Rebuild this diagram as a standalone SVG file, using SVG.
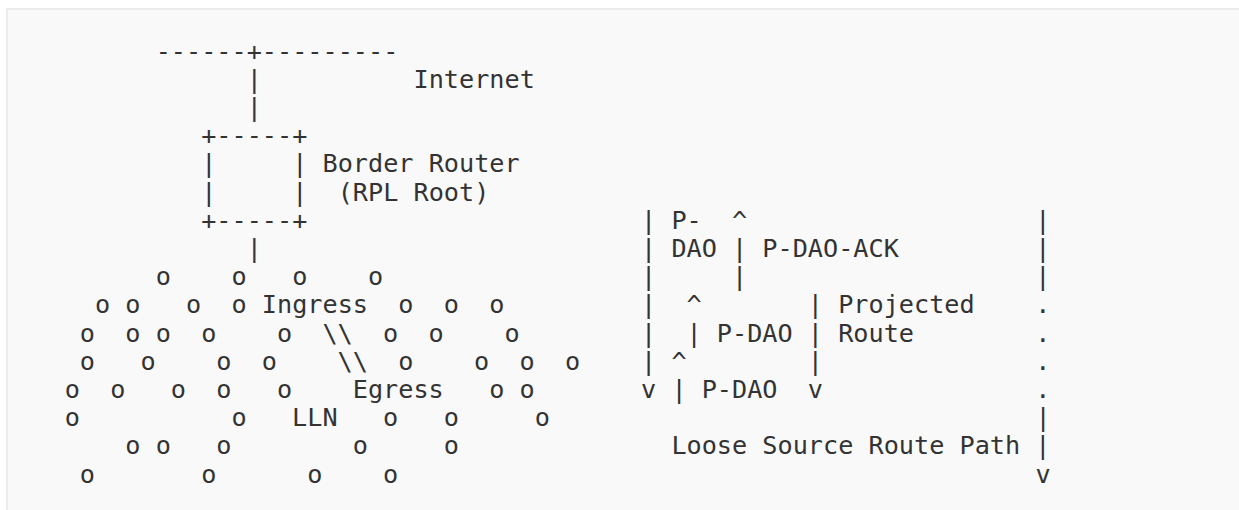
<svg xmlns="http://www.w3.org/2000/svg" width="1239" height="510" viewBox="0 0 1239 510">
<style>
  text { font-family: "DejaVu Sans Mono", "Liberation Mono", monospace; font-size: 25.2px; fill: #333; white-space: pre; }
</style>
<rect x="0" y="0" width="1239" height="510" fill="#ffffff"/>
<rect x="7" y="9" width="1300" height="600" fill="#f9f9f9" stroke="#ececec" stroke-width="2"/>
<g id="internet">
  <text x="155.68" y="59.5" xml:space="preserve">------+---------</text>
  <text x="413.54" y="87.7">Internet</text>
</g>
<g id="connectors">
  <text x="246.69" y="87.7">|</text>
  <text x="246.69" y="115.9">|</text>
  <text x="246.69" y="256.9">|</text>
</g>
<g id="border-router">
  <text x="201.18" y="144.1">+-----+</text>
  <text x="201.18" y="172.3" xml:space="preserve">|     |</text>
  <text x="322.53" y="172.3">Border Router</text>
  <text x="201.18" y="200.5" xml:space="preserve">|     |</text>
  <text x="337.70" y="200.5">(RPL Root)</text>
  <text x="201.18" y="228.7">+-----+</text>
</g>
<g id="lln">
  <text x="155.68" y="285.1" xml:space="preserve">o    o   o    o</text>
  <text x="95.01" y="313.3" xml:space="preserve">o o   o  o Ingress  o  o  o</text>
  <text x="79.84" y="341.5" xml:space="preserve">o  o o  o    o  \\  o  o    o</text>
  <text x="79.84" y="369.7" xml:space="preserve">o   o    o  o    \\  o    o  o  o</text>
  <text x="64.67" y="397.9" xml:space="preserve">o  o   o  o   o    Egress   o o</text>
  <text x="64.67" y="426.1" xml:space="preserve">o          o   LLN   o   o     o</text>
  <text x="125.34" y="454.3" xml:space="preserve">o o   o        o     o</text>
  <text x="79.84" y="482.5" xml:space="preserve">o       o      o    o</text>
</g>
<g id="pdao-flow">
  <text x="641.06" y="228.7" xml:space="preserve">| P-  ^                   |</text>
  <text x="641.06" y="256.9" xml:space="preserve">| DAO | P-DAO-ACK         |</text>
  <text x="641.06" y="285.1" xml:space="preserve">|     |                   |</text>
  <text x="641.06" y="313.3" xml:space="preserve">|  ^       | Projected    .</text>
  <text x="641.06" y="341.5" xml:space="preserve">|  | P-DAO | Route        .</text>
  <text x="641.06" y="369.7" xml:space="preserve">| ^        |              .</text>
  <text x="641.06" y="397.9" xml:space="preserve">v | P-DAO  v              .</text>
  <text x="1035.42" y="426.1">|</text>
  <text x="671.39" y="454.3" xml:space="preserve">Loose Source Route Path |</text>
  <text x="1035.42" y="482.5">v</text>
</g>
</svg>
